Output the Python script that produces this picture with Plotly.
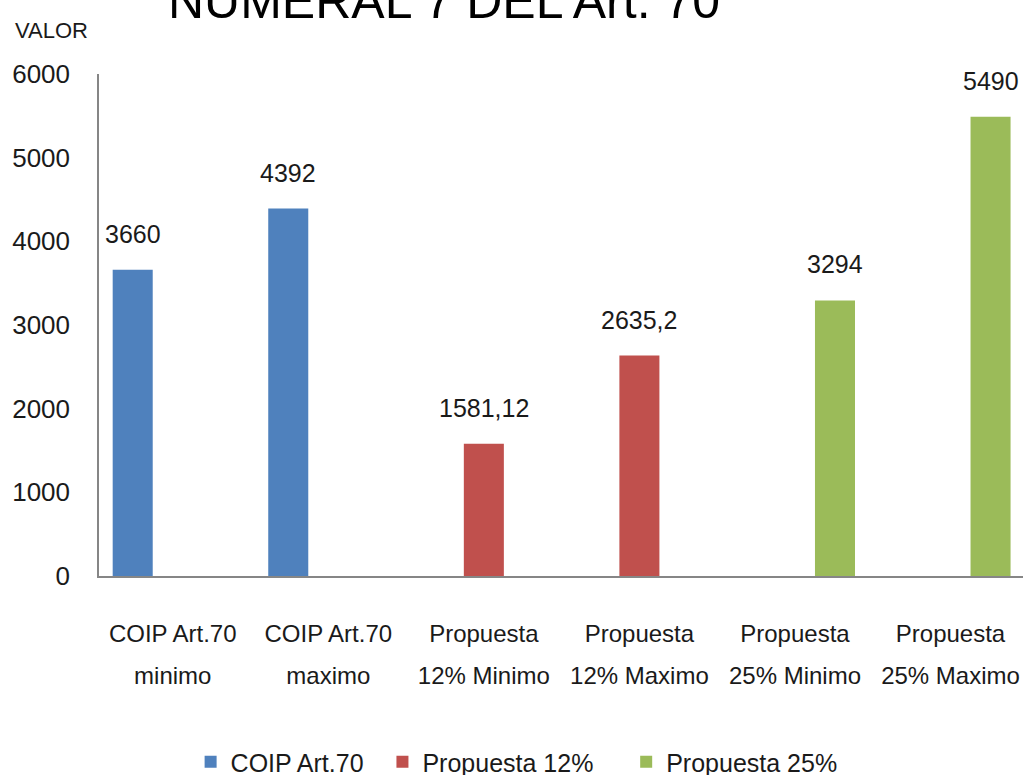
import plotly.graph_objects as go

categories = ["COIP Art.70 minimo", "COIP Art.70 maximo", "Propuesta 12% Minimo",
              "Propuesta 12% Maximo", "Propuesta 25% Minimo", "Propuesta 25% Maximo"]
cat_line1 = ["COIP Art.70", "COIP Art.70", "Propuesta", "Propuesta", "Propuesta", "Propuesta"]
cat_line2 = ["minimo", "maximo", "12% Minimo", "12% Maximo", "25% Minimo", "25% Maximo"]

series_names = ["COIP Art.70", "Propuesta 12%", "Propuesta 25%"]
coip = [3660, 4392, None, None, None, None]
prop12 = [None, None, 1581.12, 2635.2, None, None]
prop25 = [None, None, None, None, 3294, 5490]
series_values = [coip, prop12, prop25]
colors = ["#4F81BD", "#C0504D", "#9BBB59"]
legend_pad = [2, 4, 0]  # trailing spacing in legend entries

y_ticks = [0, 1000, 2000, 3000, 4000, 5000, 6000]
title_text = "NUMERAL 7 DEL Art. 70"
y_title = "VALOR"

FONT = "Liberation Sans, Arial, sans-serif"
TXT = "#1a1a1a"
bargap = 0.228
slot = (1 - bargap) / len(series_names)

fig = go.Figure()
for name, vals, col, pad in zip(series_names, series_values, colors, legend_pad):
    fig.add_trace(go.Bar(x=categories, y=vals, name=name + "&nbsp;" * pad,
                         marker_color=col, marker_line_width=0))

# helper trace so the second tick-label row (xaxis2) has its categories
fig.add_trace(go.Scatter(x=categories, y=[None] * len(categories), xaxis="x2",
                         showlegend=False, hoverinfo="skip", mode="markers"))

annotations = []
for k, vals in enumerate(series_values):
    for i, v in enumerate(vals):
        if v is None:
            continue
        label = ("%g" % v).replace(".", ",")
        annotations.append(dict(x=i + (k - 1) * slot, y=v, xref="x", yref="y",
                                text=label, showarrow=False, yanchor="bottom",
                                yshift=20, font=dict(family=FONT, size=25, color=TXT)))

annotations.append(dict(x=-0.093, y=1.0876, xref="paper", yref="paper", text=y_title,
                        showarrow=False, xanchor="left", yanchor="middle",
                        font=dict(family=FONT, size=22, color=TXT)))
annotations.append(dict(x=0.072, y=1.145, xref="paper", yref="paper", text=title_text,
                        showarrow=False, xanchor="left", yanchor="middle",
                        font=dict(family=FONT, size=50, color="#000000")))

xrange = [-0.474, 5.466]
fig.update_layout(
    width=1023, height=775,
    paper_bgcolor="white", plot_bgcolor="white",
    barmode="group", bargap=bargap, bargroupgap=0,
    margin=dict(l=99, r=0, t=74, b=199),
    font=dict(family=FONT, size=25, color=TXT),
    showlegend=True,
    legend=dict(orientation="h", x=0.505, xanchor="center", xref="container",
                y=1 - 762 / 775, yanchor="middle", yref="container",
                font=dict(family=FONT, size=25, color=TXT),
                itemwidth=30, traceorder="normal"),
    xaxis=dict(type="category", categoryorder="array", categoryarray=categories,
               tickvals=categories, ticktext=cat_line1, range=xrange,
               showline=True, linecolor="#868686", linewidth=1.5,
               ticks="", showgrid=False, zeroline=False, ticklabelstandoff=35,
               tickfont=dict(family=FONT, size=24, color=TXT)),
    xaxis2=dict(type="category", categoryorder="array", categoryarray=categories,
                tickvals=categories, ticktext=cat_line2, range=xrange,
                overlaying="x", side="bottom", anchor="y",
                showline=False, ticks="", showgrid=False, zeroline=False,
                ticklabelstandoff=83,
                tickfont=dict(family=FONT, size=24, color=TXT)),
    yaxis=dict(range=[0, 6000], tickvals=y_ticks, showline=True, linecolor="#868686",
               linewidth=1.5, ticks="", showgrid=False, zeroline=False,
               ticklabelstandoff=22,
               tickfont=dict(family=FONT, size=26, color=TXT)),
    annotations=annotations,
)

fig.write_html("out.html", config={"displayModeBar": False},
               post_script="document.body.style.margin='0';"
                           "document.body.style.overflow='hidden';")
